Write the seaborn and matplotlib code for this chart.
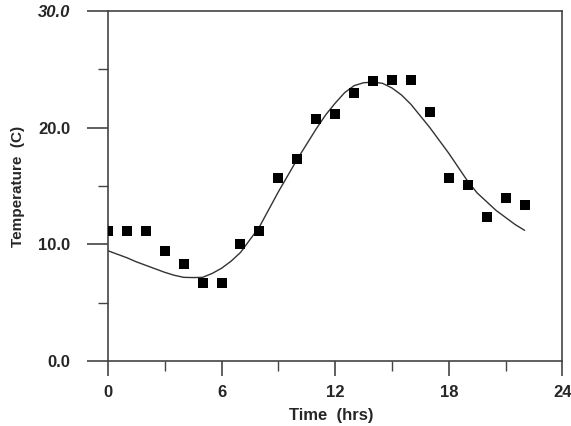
import numpy as np
import pandas as pd
import matplotlib
matplotlib.use("Agg")
import matplotlib.pyplot as plt
from matplotlib.ticker import MultipleLocator
import seaborn as sns

# measured temperatures (squares)
obs_hours = list(range(0, 23))
obs_temp = [11.1, 11.1, 11.1, 9.4, 8.3, 6.7, 6.7, 10.0, 11.1, 15.7, 17.3,
            20.7, 21.2, 23.0, 24.0, 24.1, 24.1, 21.3, 15.7, 15.1, 12.3, 14.0, 13.4]

# model curve, read every half hour
fit_hours = [0, 0.5, 1, 1.5, 2, 2.5, 3, 3.5, 4, 4.5, 5, 5.5, 6, 6.5, 7, 7.5,
             8, 8.5, 9, 9.5, 10, 10.5, 11, 11.5, 12, 12.5, 13, 13.5, 14, 14.5,
             15, 15.5, 16, 16.5, 17, 17.5, 18, 18.5, 19, 19.5, 20, 20.5, 21,
             21.5, 22]
fit_temp = [9.45, 9.15, 8.85, 8.5, 8.2, 7.9, 7.6, 7.35, 7.17, 7.15, 7.17, 7.5,
            7.95, 8.55, 9.3, 10.4, 11.5, 13.0, 14.5, 15.9, 17.3, 18.6, 19.9,
            21.1, 22.1, 23.0, 23.6, 23.85, 23.9, 23.8, 23.4, 22.8, 22.0, 21.0,
            20.0, 18.9, 17.8, 16.6, 15.4, 14.4, 13.65, 12.9, 12.3, 11.7, 11.2]

x_ticks = [0, 6, 12, 18, 24]
y_ticks = [0.0, 10.0, 20.0, 30.0]

obs = pd.DataFrame({"hour": obs_hours, "temp": obs_temp})
fit = pd.DataFrame({"hour": fit_hours, "temp": fit_temp})

sns.set_style("ticks")
plt.rcParams["font.family"] = ["Liberation Sans", "DejaVu Sans"]

fig = plt.figure(figsize=(5.71, 4.26), dpi=100)
ax = fig.add_axes([0.189, 0.1526, 0.796, 0.8216])

sns.lineplot(data=fit, x="hour", y="temp", ax=ax, color="#333333", linewidth=1.0)
sns.scatterplot(data=obs, x="hour", y="temp", ax=ax, marker="s", s=50,
                color="black", edgecolor="black", linewidth=0, zorder=3)

ax.set_xlim(0, 24)
ax.set_ylim(0, 30)
ax.set_xticks(x_ticks)
ax.set_yticks(y_ticks)
ax.set_xticklabels([str(t) for t in x_ticks])
ax.set_yticklabels([f"{t:.1f}" for t in y_ticks])
ax.xaxis.set_minor_locator(MultipleLocator(3))
ax.yaxis.set_minor_locator(MultipleLocator(5))

for lab in ax.get_xticklabels() + ax.get_yticklabels():
    lab.set_fontweight("bold")
    lab.set_fontsize(12)
ax.get_yticklabels()[-1].set_fontstyle("italic")

ax.tick_params(axis="x", which="major", direction="out", length=11, width=1.2,
               pad=6, color="#444444")
ax.tick_params(axis="x", which="minor", direction="out", length=7, width=1.0,
               color="#444444")
ax.tick_params(axis="y", which="major", direction="out", length=15, width=1.2,
               pad=12, color="#444444")
ax.tick_params(axis="y", which="minor", direction="out", length=7, width=1.0,
               color="#444444")

for side in ["left", "right", "top", "bottom"]:
    ax.spines[side].set_visible(True)
    ax.spines[side].set_color("#444444")
    ax.spines[side].set_linewidth(1.2)

ax.set_xlabel("Time  (hrs)", fontsize=12, fontweight="bold")
ax.set_ylabel("Temperature  (C)", fontsize=11, fontweight="bold")
ax.xaxis.set_label_coords(0.492, -0.135)
ax.yaxis.set_label_coords(-0.182, 0.5)

fig.savefig("out.png", dpi=100)
